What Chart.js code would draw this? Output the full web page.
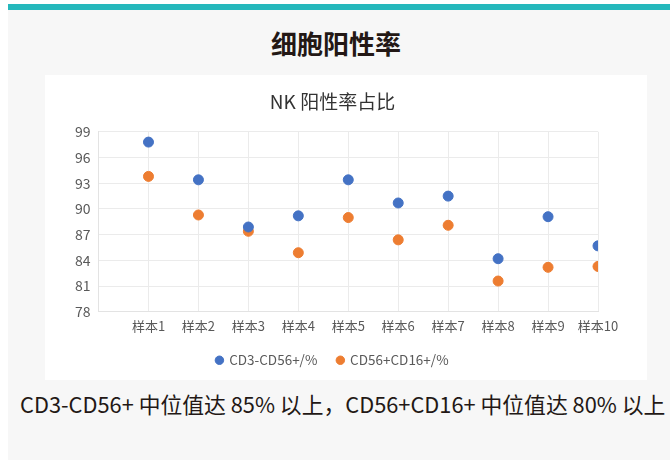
<!DOCTYPE html>
<html>
<head>
<meta charset="utf-8">
<script src="https://cdn.jsdelivr.net/npm/chart.js@4.4.0/dist/chart.umd.min.js"></script>
<style>
  body { margin: 0; background: #fff; width: 670px; height: 460px; overflow: hidden; font-family: "Noto Sans CJK SC", "Noto Sans", sans-serif; }
  .panel { position: absolute; left: 8px; top: 4px; width: 662px; height: 456px; background: #f7f7f7; border-top: 6px solid #25b8bc; box-sizing: border-box; }
  .title { position: absolute; left: 0; width: 672px; top: 24px; text-align: center; font-size: 26px; font-weight: bold; color: #231815; }
  .card { position: absolute; left: 45px; top: 75px; width: 602px; height: 305px; background: #fff; }
  .card canvas { position: absolute; left: 0; top: 0; }
  .note { position: absolute; left: 20px; top: 388px; font-size: 21.8px; color: #231815; white-space: nowrap; }
</style>
</head>
<body>
<div class="panel"></div>
<div class="title">细胞阳性率</div>
<div class="card"><canvas id="nk" width="602" height="311"></canvas></div>
<div class="note">CD3-CD56+ 中位值达 85% 以上，CD56+CD16+ 中位值达 80% 以上</div>
<script>
// categories and values
const samples = ['样本1', '样本2', '样本3', '样本4', '样本5', '样本6', '样本7', '样本8', '样本9', '样本10']
const cd3cd56 = [97.8, 93.4, 87.9, 89.2, 93.4, 90.7, 91.5, 84.2, 89.1, 85.7]
const cd56cd16 = [93.8, 89.3, 87.4, 84.9, 89.0, 86.4, 88.1, 81.6, 83.2, 83.3]
const seriesNames = ['CD3-CD56+/%', 'CD56+CD16+/%']
const yTicks = [78, 81, 84, 87, 90, 93, 96, 99]

const toPoints = arr => arr.map((v, i) => ({ x: i + 1, y: v }))
const font = '"Noto Sans CJK SC", "Noto Sans", sans-serif'

const config = {
  type: 'scatter',
  data: {
    datasets: [{
      label: seriesNames[0],
      data: toPoints(cd3cd56),
      backgroundColor: '#4472c4',
      borderColor: '#4472c4',
      pointRadius: 5,
    }, {
      label: seriesNames[1],
      data: toPoints(cd56cd16),
      backgroundColor: '#ed7d31',
      borderColor: '#ed7d31',
      pointRadius: 5,
    }]
  },
  options: {
    responsive: false,
    animation: false,
    layout: { padding: { left: 22, right: 49, top: 9, bottom: 9 } },
    plugins: {
      title: {
        display: true,
        text: 'NK 阳性率占比',
        color: '#333',
        font: { family: font, size: 19, weight: 'normal' },
        padding: { top: 6, bottom: 19 }
      },
      legend: {
        position: 'bottom',
        labels: {
          usePointStyle: true,
          pointStyle: 'circle',
          boxWidth: 6,
          boxHeight: 6,
          padding: 20,
          color: '#595959',
          font: { family: font, size: 13.5 }
        }
      },
      tooltip: { enabled: false }
    },
    scales: {
      x: {
        type: 'linear',
        min: 0,
        max: samples.length,
        grid: { color: '#ebebeb', drawTicks: false },
        border: { color: '#e3e3e3' },
        // legend padding is wide, let the labels sit into it
        afterFit: s => { s.height -= 6 },
        ticks: {
          stepSize: 1,
          padding: 6,
          color: '#595959',
          font: { family: font, size: 13 },
          callback: v => v === 0 ? '' : samples[v - 1]
        }
      },
      y: {
        min: yTicks[0],
        max: yTicks[yTicks.length - 1],
        grid: { color: '#ebebeb', drawTicks: false },
        border: { color: '#e3e3e3' },
        afterBuildTicks: axis => { axis.ticks = yTicks.map(v => ({ value: v })) },
        ticks: {
          padding: 8,
          color: '#595959',
          font: { family: font, size: 14 }
        }
      }
    }
  }
}

const nkChart = new Chart(document.getElementById('nk'), config)
</script>
</body>
</html>
